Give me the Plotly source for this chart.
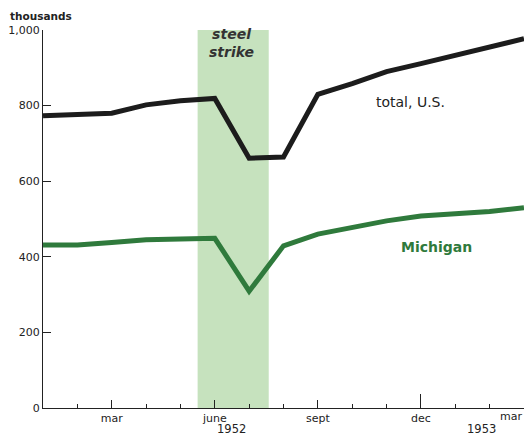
import plotly.graph_objects as go

months = list(range(15))  # Jan 1952 .. Mar 1953
total_us = [773, 776, 780, 802, 813, 819, 661, 664, 830, 858, 890, 911, 933, 953, 977]
michigan = [431, 431, 438, 445, 447, 449, 309, 429, 460, 477, 495, 508, 514, 520, 530]

major_ticks = [2, 5, 8, 11, 14]
major_labels = ["mar", "june", "sept", "dec", ""]
last_label = "mar"
y_ticks = [0, 200, 400, 600, 800, 1000]
y_labels = ["0", "200", "400", "600", "800", "1,000"]
strike_span = [4.5, 6.57]

FONT = "DejaVu Sans"
DARK = "#222222"
GREEN = "#2f7a3c"
XR = [-0.001, 14.001]

fig = go.Figure()
fig.add_trace(go.Scatter(x=months, y=total_us, mode="lines",
                         line=dict(color="#1c1c1c", width=5), hoverinfo="skip"))
fig.add_trace(go.Scatter(x=months, y=michigan, mode="lines",
                         line=dict(color=GREEN, width=5), hoverinfo="skip"))
# overlay axis trace for long Dec tick
fig.add_trace(go.Scatter(x=[11], y=[0], xaxis="x2", mode="markers",
                         marker=dict(opacity=0), hoverinfo="skip"))

fig.add_shape(type="rect", xref="x", yref="y", x0=strike_span[0], x1=strike_span[1],
              y0=-6, y1=1000, fillcolor="rgb(198,226,190)", line=dict(width=0), layer="below")

# the page body has an 8px margin, so the figure margins compensate for that offset
fig.update_layout(
    width=516, height=435,
    margin=dict(l=35, r=0, t=22, b=35, autoexpand=False),
    paper_bgcolor="white", plot_bgcolor="white",
    showlegend=False,
    font=dict(family=FONT, size=10, color=DARK),
    xaxis=dict(range=XR, tickvals=major_ticks, ticktext=major_labels, automargin=False,
               ticks="inside", ticklen=8, tickwidth=1.3, tickcolor=DARK,
               minor=dict(tickvals=months, ticks="inside", ticklen=4, tickwidth=1.2, tickcolor=DARK),
               showline=True, linecolor=DARK, linewidth=1.3, showgrid=False, zeroline=False,
               tickfont=dict(size=11, color=DARK), fixedrange=True),
    xaxis2=dict(range=XR, overlaying="x", anchor="y", side="bottom", automargin=False,
                tickvals=[11], ticktext=[""], ticks="inside", ticklen=14, tickwidth=1.3,
                tickcolor=DARK, showline=False, showgrid=False, zeroline=False),
    yaxis=dict(range=[0, 1000], tickvals=y_ticks, ticktext=y_labels, automargin=False,
               ticks="inside", ticklen=8, tickwidth=1.3, tickcolor=DARK,
               showline=True, linecolor=DARK, linewidth=1.3, showgrid=False, zeroline=False,
               tickfont=dict(size=11, color=DARK), fixedrange=True),
)

fig.add_annotation(text="<b>thousands</b>", xref="paper", yref="paper", x=-35 / 481, y=1.037,
                   xanchor="left", yanchor="middle", showarrow=False, font=dict(size=10.5, color=DARK))
fig.add_annotation(text="<b><i>steel<br>strike</i></b>", xref="x", yref="paper", x=5.5, y=1.0,
                   xanchor="center", yanchor="top", yshift=6, showarrow=False,
                   font=dict(size=14, color="#333333"))
fig.add_annotation(text="total, U.S.", xref="x", yref="y", x=10.7, y=810,
                   showarrow=False, font=dict(size=14, color=DARK))
fig.add_annotation(text="<b>Michigan</b>", xref="x", yref="y", x=11.45, y=425,
                   showarrow=False, font=dict(size=14, color=GREEN))
fig.add_annotation(text=last_label, xref="x", yref="paper", x=14, y=-0.022,
                   xanchor="right", yanchor="middle", showarrow=False,
                   font=dict(size=11, color=DARK))
fig.add_annotation(text="1952", xref="x", yref="paper", x=5.5, y=-0.056,
                   yanchor="middle", showarrow=False, font=dict(size=11.5, color=DARK))
fig.add_annotation(text="1953", xref="x", yref="paper", x=12.77, y=-0.056,
                   yanchor="middle", showarrow=False, font=dict(size=11.5, color=DARK))

fig.write_html("out.html")
